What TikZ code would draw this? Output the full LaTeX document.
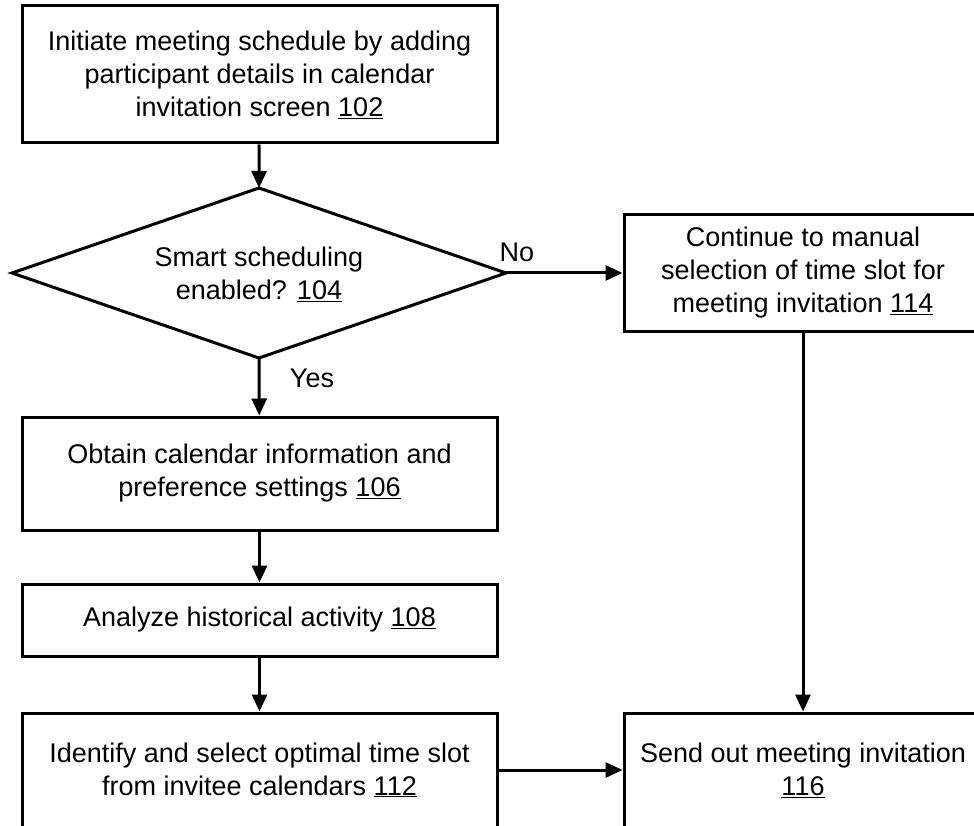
\documentclass[tikz,border=0pt]{standalone}
\usepackage{fontspec}
\setmainfont{Liberation Sans}
\usetikzlibrary{arrows.meta}
\begin{document}
\begin{tikzpicture}[x=1pt,y=-1pt,
  txt/.style={font=\fontsize{27}{33}\selectfont, align=center},
  procbox/.style={txt, draw, line width=3pt, inner sep=0pt},
  outline/.style={line width=3pt, line join=miter},
  arr/.style={line width=3pt, -{Triangle[length=17pt,width=15pt]}},
  lbl/.style={txt}]
\useasboundingbox (0,0) rectangle (974,826);
\clip (0,0) rectangle (974,826);
\fill[white] (0,0) rectangle (974,826);

% process steps, left column
\node[procbox, minimum width=475pt, minimum height=137pt] (n102) at (259.5,74.5)
  {Initiate meeting schedule by adding\\participant details in calendar\\invitation screen \underline{102}};

% decision diamond with its four corners
\coordinate (d104n) at (259,188);
\coordinate (d104e) at (506,273);
\coordinate (d104s) at (259,358);
\coordinate (d104w) at (12,273);
\draw[outline] (d104n) -- (d104e) -- (d104s) -- (d104w) -- cycle;
\node[txt] (n104) at (259,274) {Smart scheduling\\enabled? \underline{104}};

\node[procbox, minimum width=475pt, minimum height=113pt] (n106) at (259.5,473.5)
  {Obtain calendar information and\\preference settings \underline{106}};
\node[procbox, minimum width=475pt, minimum height=72pt] (n108) at (259.5,620)
  {Analyze historical activity \underline{108}};
\node[procbox, minimum width=475pt, minimum height=114pt] (n112) at (259.5,770)
  {Identify and select optimal time slot\\from invitee calendars \underline{112}};

% right column
\node[procbox, minimum width=358pt, minimum height=116pt] (n114) at (803,273)
  {Continue to manual\\selection of time slot for\\meeting invitation \underline{114}};
\node[procbox, minimum width=358pt, minimum height=114pt] (n116) at (803,770)
  {Send out meeting invitation\\\underline{116}};

% connectors
\draw[arr] (n102) -- (d104n);
\draw[arr] (d104s) -- (n106);
\draw[arr] (n106) -- (n108);
\draw[arr] (n108) -- (n112);
\draw[arr] (d104e) -- (d104e -| n114.west);
\draw[arr] (n114) -- (n116);
\draw[arr] (n112) -- (n116);

% branch labels
\node[lbl] (lno) at (517,252) {No};
\node[lbl] (lyes) at (312,378) {Yes};
\end{tikzpicture}
\end{document}
